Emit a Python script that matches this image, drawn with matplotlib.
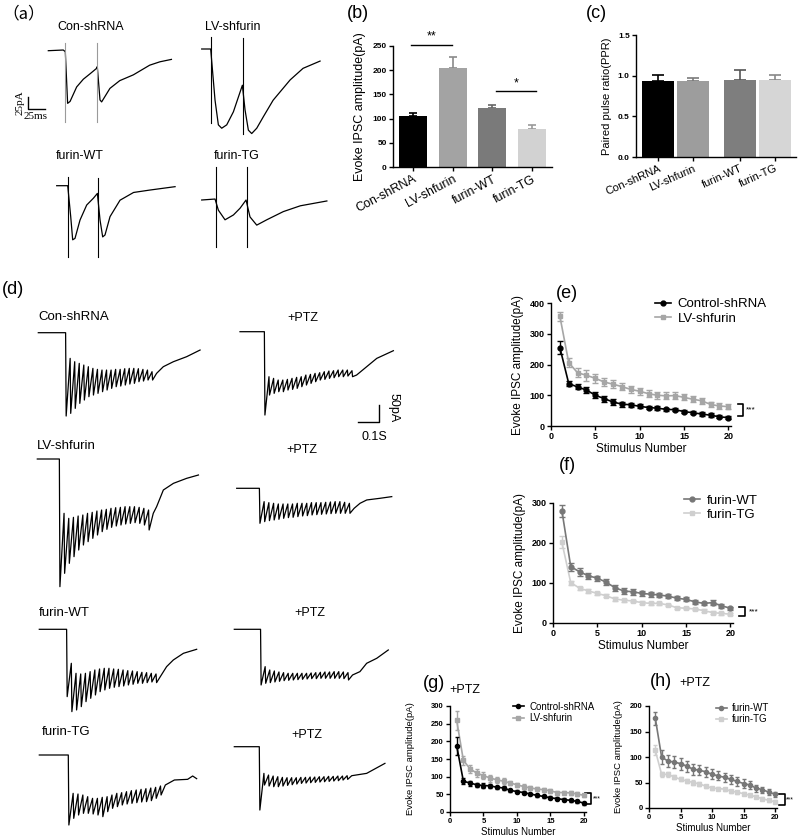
import matplotlib
matplotlib.use('Agg')
import matplotlib.pyplot as plt
from matplotlib.lines import Line2D
import numpy as np

plt.rcParams['font.family'] = ['Liberation Sans', 'DejaVu Sans']
plt.rcParams['axes.linewidth'] = 1.0

W, H = 800, 836
fig = plt.figure(figsize=(W / 100, H / 100), dpi=100)

# ---------------- data ----------------
groups = ['Con-shRNA', 'LV-shfurin', 'furin-WT', 'furin-TG']
b_vals = [105, 204, 121, 78]
b_err = [7, 24, 8, 9]
c_vals = [0.93, 0.93, 0.945, 0.952]
c_err = [0.08, 0.04, 0.13, 0.06]

stim = np.arange(1, 21)
e_ctrl = [255, 138, 127, 117, 100, 89, 78, 71, 69, 64, 60, 58, 54, 53, 47, 43, 39, 35, 30, 27]
e_ctrl_err = [20, 8, 8, 9, 10, 10, 9, 8, 7, 7, 6, 6, 6, 5, 6, 5, 5, 6, 5, 5]
e_lv = [357, 206, 173, 165, 155, 143, 136, 128, 119, 113, 105, 100, 98, 99, 93, 87, 82, 70, 65, 63]
e_lv_err = [15, 15, 15, 18, 15, 14, 13, 12, 12, 12, 12, 11, 11, 10, 10, 10, 10, 9, 9, 9]

f_wt = [281, 141, 128, 118, 112, 102, 88, 80, 78, 74, 72, 70, 67, 62, 59, 53, 49, 51, 43, 37]
f_wt_err = [15, 10, 10, 8, 6, 7, 8, 8, 7, 7, 6, 5, 5, 5, 5, 5, 4, 6, 5, 4]
f_tg = [202, 101, 87, 80, 74, 68, 60, 57, 55, 51, 49, 49, 45, 38, 37, 35, 31, 26, 24, 22]
f_tg_err = [15, 5, 4, 4, 4, 4, 4, 4, 3, 3, 3, 3, 3, 3, 3, 3, 3, 3, 3, 3]

g_ctrl = [187, 87, 82, 77, 75, 74, 70, 68, 61, 58, 55, 51, 47, 44, 40, 38, 35, 33, 30, 25]
g_ctrl_err = [25, 8, 7, 6, 6, 6, 5, 5, 4, 4, 5, 4, 4, 4, 4, 4, 4, 5, 4, 4]
g_lv = [259, 146, 122, 110, 103, 96, 91, 87, 82, 77, 72, 68, 65, 63, 60, 55, 55, 54, 51, 47]
g_lv_err = [28, 12, 12, 12, 10, 10, 8, 8, 6, 6, 6, 5, 5, 5, 5, 5, 5, 5, 5, 5]

h_wt = [176, 100, 92, 90, 87, 82, 76, 74, 71, 66, 63, 60, 56, 52, 48, 45, 39, 36, 31, 27]
h_wt_err = [13, 14, 12, 12, 12, 11, 11, 10, 10, 10, 9, 9, 9, 8, 8, 7, 7, 6, 6, 5]
h_tg = [113, 66, 66, 61, 56, 53, 50, 47, 43, 39, 38, 37, 33, 31, 28, 25, 22, 18, 15, 12]
h_tg_err = [10, 5, 5, 4, 4, 4, 4, 4, 3, 3, 3, 3, 3, 3, 3, 3, 3, 3, 3, 3]

# panel (a) paired-pulse traces: time (ms), current (pA)
a_con_t = [0, 22, 25, 28.4, 32, 41.7, 51.5, 61.2, 70.6, 72, 76, 78.4, 90.6, 105, 125, 149, 164, 181]
a_con_i = [0, 1.4, -2, -109, -105, -75, -59, -48, -37, -33, -102, -106, -78, -62, -50, -30, -23, -18]
a_con_stim = [24.5, 71]
a_lv_t = [0, 13.2, 19.6, 24.5, 29.4, 36.8, 46.6, 59.8, 63.7, 68.6, 73.5, 80.9, 90.7, 105, 130, 149, 174]
a_lv_i = [0, 0, -106, -157, -164, -157, -130, -75, -126, -168, -175, -164, -140, -106, -64, -40, -25]
a_lv_stim = [13.7, 60.3]
a_wt_t = [0, 16.2, 20.6, 23.5, 26.9, 34.3, 44.1, 53.9, 59.8, 63.7, 67.6, 71, 78.4, 93.1, 113, 137, 174]
a_wt_i = [0, 0, -64, -112, -109, -71, -40, -26, -16, -71, -106, -102, -64, -30, -14, -9, -2]
a_wt_stim = [17.2, 60.3]
a_tg_t = [0, 19.6, 24.5, 34.3, 46.6, 56.4, 65.2, 71, 80.9, 95.6, 120, 145, 184]
a_tg_i = [0, 2, -21, -41, -31, -17, 0, -35, -52, -41, -24, -12, -2]
a_tg_stim = [21, 66]

# panel (d) 20-pulse train traces: per-pulse trough / peak currents (pA)
d_con_trough = [-250, -242, -227, -212, -202, -192, -187, -182, -177, -172, -167, -162, -160, -157, -154, -152, -147, -145, -142, -142]
d_con_peak = [-77, -87, -92, -97, -102, -107, -110, -112, -112, -112, -110, -110, -108, -107, -107, -108, -110, -112, -117, -122]
d_con_rec_t = [595, 643, 706, 770]
d_con_rec_i = [-102, -87, -72, -52]

d_conp_trough = [-250, -190, -185, -180, -180, -175, -173, -170, -165, -160, -155, -150, -145, -143, -140, -138, -135, -135, -133, -135]
d_conp_peak = [-135, -140, -145, -145, -143, -140, -137, -135, -130, -128, -125, -123, -120, -118, -117, -115, -115, -115, -117, -130]
d_conp_rec_t = [603, 651, 730]
d_conp_rec_i = [-105, -80, -57]

d_lv_trough = [-383, -343, -313, -293, -273, -258, -248, -238, -228, -218, -211, -205, -201, -198, -195, -193, -191, -193, -198, -213]
d_lv_peak = [-163, -178, -175, -171, -168, -163, -160, -156, -153, -151, -148, -146, -145, -143, -143, -143, -145, -148, -153, -163]
d_lv_rec_t = [568, 600, 648, 711, 767]
d_lv_rec_i = [-143, -93, -73, -58, -48]

d_lvp_trough = [-105, -100, -97, -95, -93, -90, -88, -87, -85, -83, -82, -80, -79, -78, -77, -76, -75, -75, -75, -75]
d_lvp_peak = [-40, -43, -45, -47, -47, -47, -47, -45, -45, -45, -43, -43, -43, -42, -41, -40, -40, -42, -45, -60]
d_lvp_rec_t = [587, 619, 682, 738]
d_lvp_rec_i = [-45, -35, -30, -25]

d_wt_trough = [-202, -247, -242, -232, -217, -207, -197, -187, -182, -177, -174, -172, -170, -167, -165, -162, -162, -160, -158, -160]
d_wt_peak = [-102, -132, -134, -132, -127, -122, -119, -117, -117, -119, -120, -122, -124, -125, -127, -129, -130, -132, -134, -140]
d_wt_rec_t = [606, 638, 686, 749]
d_wt_rec_i = [-112, -92, -72, -60]

d_wtp_trough = [-167, -162, -160, -158, -156, -154, -153, -152, -151, -150, -149, -148, -148, -147, -147, -147, -147, -147, -148, -152]
d_wtp_peak = [-112, -122, -125, -128, -130, -132, -132, -132, -132, -132, -131, -130, -129, -128, -128, -127, -127, -128, -130, -137]
d_wtp_rec_t = [598, 630, 678, 733]
d_wtp_rec_i = [-127, -102, -87, -62]

d_tg_trough = [-210, -190, -180, -175, -175, -177, -180, -185, -170, -160, -155, -150, -147, -145, -143, -141, -140, -137, -130, -120]
d_tg_peak = [-115, -117, -120, -125, -130, -130, -127, -125, -120, -115, -113, -110, -107, -105, -103, -101, -99, -97, -93, -90]
d_tg_rec_t = [643, 706, 730, 749]
d_tg_rec_i = [-75, -73, -63, -71]

d_tgp_trough = [-190, -115, -118, -120, -120, -118, -116, -114, -112, -110, -109, -108, -107, -106, -105, -104, -103, -102, -100, -98]
d_tgp_peak = [-80, -85, -88, -90, -92, -93, -93, -93, -92, -92, -91, -91, -90, -90, -89, -89, -88, -88, -87, -87]
d_tgp_rec_t = [630, 717]
d_tgp_rec_i = [-80, -50]

# ---------------- helpers ----------------
def px_axes(x0, y0, x1, y1, **kw):
    return fig.add_axes([x0 / W, 1 - y1 / H, (x1 - x0) / W, (y1 - y0) / H], **kw)


def ftext(x, y, s, **kw):
    return fig.text(x / W, 1 - y / H, s, **kw)


def trace_axes(ms_per_px, pa_per_px):
    ax = fig.add_axes([0, 0, 1, 1], zorder=0)
    ax.set_xlim(0, W * ms_per_px)
    ax.set_ylim(-H * pa_per_px, 0)
    ax.axis('off')
    ax.patch.set_alpha(0)
    return ax


LABEL_FONT = dict(fontsize=13)

# ---------------- panel (a) traces ----------------
MS_A, PA_A = 1.47, 2.07
axA = trace_axes(MS_A, PA_A)
a_specs = [
    (a_con_t, a_con_i, a_con_stim, (48.3, 50.7), [(15, -147), (15, -147)], '#9a9a9a'),
    (a_lv_t, a_lv_i, a_lv_stim, (201.7, 49.0), [(25, -154), (22, -175)], 'black'),
    (a_wt_t, a_wt_i, a_wt_stim, (56.7, 185.7), [(19, -147), (15, -147)], 'black'),
    (a_tg_t, a_tg_i, a_tg_stim, (201.7, 200.0), [(69, -97), (69, -97)], 'black'),
]
for t, i, st, (ox, oy), rng, scol in a_specs:
    x0, y0 = ox * MS_A, -oy * PA_A
    axA.plot(x0 + np.array(t), y0 + np.array(i), color='black', lw=0.9)
    for s, (top, bot) in zip(st, rng):
        axA.plot([x0 + s, x0 + s], [y0 + top, y0 + bot], color=scol, lw=0.8)

# scale bar (a)
sx, sy = 28 * MS_A, -109 * PA_A
axA.plot([sx, sx, sx + 25], [sy + 25, sy, sy], color='black', lw=1.0)
ftext(20, 103, '25pA', rotation=90, ha='center', va='center', fontsize=8,
      family=['Liberation Serif', 'DejaVu Serif'])
ftext(36, 112, '25ms', ha='center', va='top', fontsize=8,
      family=['Liberation Serif', 'DejaVu Serif'])

ftext(2, 14, '（a）', ha='left', va='center', fontsize=12,
      family=['Noto Sans CJK SC', 'DejaVu Sans'])
ftext(57, 27, 'Con-shRNA', ha='left', va='center', fontsize=9)
ftext(205, 27, 'LV-shfurin', ha='left', va='center', fontsize=9)
ftext(56, 156, 'furin-WT', ha='left', va='center', fontsize=9)
ftext(214, 156, 'furin-TG', ha='left', va='center', fontsize=9)

# ---------------- panel (d) traces ----------------
MS_D, PA_D = 4.76, 3.0
axD = trace_axes(MS_D, PA_D)


def train_path(t_on, t_off, troughs, peaks, rec_t, rec_i):
    n = len(troughs)
    dt = (t_off - t_on) / n
    ts, ys = [0, t_on], [0, 0]
    for k in range(n):
        ts += [t_on + k * dt + 0.12 * dt, t_on + (k + 1) * dt]
        ys += [troughs[k], peaks[k]]
    return np.array(ts + list(rec_t)), np.array(ys + list(rec_i))


d_specs = [
    (130, 563, d_con_trough, d_con_peak, d_con_rec_t, d_con_rec_i, (38.3, 332.7)),
    (116, 555, d_conp_trough, d_conp_peak, d_conp_rec_t, d_conp_rec_i, (240.0, 331.7)),
    (105, 552, d_lv_trough, d_lv_peak, d_lv_rec_t, d_lv_rec_i, (37.3, 459.0)),
    (108, 559, d_lvp_trough, d_lvp_peak, d_lvp_rec_t, d_lvp_rec_i, (236.7, 488.3)),
    (130, 578, d_wt_trough, d_wt_peak, d_wt_rec_t, d_wt_rec_i, (39.3, 629.3)),
    (125, 563, d_wtp_trough, d_wtp_peak, d_wtp_rec_t, d_wtp_rec_i, (234.3, 629.3)),
    (138, 600, d_tg_trough, d_tg_peak, d_tg_rec_t, d_tg_rec_i, (39.3, 755.0)),
    (119, 559, d_tgp_trough, d_tgp_peak, d_tgp_rec_t, d_tgp_rec_i, (234.3, 746.7)),
]
for t_on, t_off, tr, pk, rt, ri, (ox, oy) in d_specs:
    ts, ys = train_path(t_on, t_off, tr, pk, rt, ri)
    axD.plot(ox * MS_D + ts, -oy * PA_D + ys, color='black', lw=0.9)

# scale bar (d)
cx, cy = 379 * MS_D, -421.7 * PA_D
axD.plot([cx - 100, cx, cx], [cy, cy, cy + 50], color='black', lw=1.0)
ftext(394, 408, '50pA', rotation=-90, ha='center', va='center', fontsize=9)
ftext(374, 437, '0.1S', ha='center', va='center', fontsize=9)

ftext(2, 290, '(d)', ha='left', va='center', **LABEL_FONT)
ftext(38, 317, 'Con-shRNA', ha='left', va='center', fontsize=9.5)
ftext(303, 318, '+PTZ', ha='center', va='center', fontsize=9)
ftext(37, 446, 'LV-shfurin', ha='left', va='center', fontsize=9.5)
ftext(302, 450, '+PTZ', ha='center', va='center', fontsize=9)
ftext(39, 613, 'furin-WT', ha='left', va='center', fontsize=9.5)
ftext(310, 613, '+PTZ', ha='center', va='center', fontsize=9)
ftext(42, 732, 'furin-TG', ha='left', va='center', fontsize=9.5)
ftext(307, 735, '+PTZ', ha='center', va='center', fontsize=9)


# ---------------- common axis styling ----------------
def style(ax, tick_fs):
    for sp in ['top', 'right']:
        ax.spines[sp].set_visible(False)
    ax.tick_params(direction='out', length=3, width=1.0, pad=1.5)
    ax.tick_params(axis='y', labelsize=tick_fs)
    for lab in ax.get_yticklabels():
        lab.set_fontweight('bold')


# ---------------- panel (b) ----------------
b_colors = ['#000000', '#a3a3a3', '#7a7a7a', '#d2d2d2']
b_ecol = ['#000000', '#8a8a8a', '#666666', '#9a9a9a']
axb = px_axes(393, 46, 552, 167)
xb = np.arange(4)
axb.bar(xb, b_vals, width=0.7, color=b_colors, zorder=2)
for k in range(4):
    axb.errorbar(xb[k], b_vals[k], yerr=[[0], [b_err[k]]], fmt='none', ecolor=b_ecol[k],
                 elinewidth=1.2, capsize=3, capthick=1.2, zorder=1)
axb.set_xlim(-0.5, 3.5)
axb.set_ylim(0, 250)
axb.set_yticks([0, 50, 100, 150, 200, 250])
axb.set_xticks(xb)
style(axb, 6)
axb.set_xticklabels(groups, rotation=28, ha='right', rotation_mode='anchor', fontsize=9)
axb.set_ylabel('Evoke IPSC amplitude(pA)', fontsize=9)
axb.yaxis.set_label_coords(-0.17, 0.5)
axb.plot([-0.05, 0.98], [252, 252], color='black', lw=1.0, clip_on=False)
axb.text(0.46, 258, '**', ha='center', va='bottom', fontsize=9)
axb.plot([2.09, 3.09], [157, 157], color='black', lw=1.0, clip_on=False)
axb.text(2.59, 161, '*', ha='center', va='bottom', fontsize=9)
ftext(358, 13, '(b)', ha='center', va='center', **LABEL_FONT)

# ---------------- panel (c) ----------------
c_colors = ['#000000', '#9d9d9d', '#7e7e7e', '#d6d6d6']
c_ecol = ['#000000', '#7a7a7a', '#555555', '#888888']
axc = px_axes(636, 35, 796, 157)
xc = np.array([0, 1, 2.34, 3.34])
axc.bar(xc, c_vals, width=0.91, color=c_colors, zorder=2)
for k in range(4):
    axc.errorbar(xc[k], c_vals[k], yerr=[[0], [c_err[k]]], fmt='none', ecolor=c_ecol[k],
                 elinewidth=1.2, capsize=4, capthick=1.2, zorder=1)
axc.set_xlim(-0.63, 3.94)
axc.set_ylim(0, 1.5)
axc.set_yticks([0.0, 0.5, 1.0, 1.5])
axc.set_yticklabels(['0.0', '0.5', '1.0', '1.5'])
axc.set_xticks(xc)
style(axc, 6)
axc.set_xticklabels(groups, rotation=24, ha='right', rotation_mode='anchor', fontsize=8)
axc.set_ylabel('Paired pulse ratio(PPR)', fontsize=8)
axc.yaxis.set_label_coords(-0.15, 0.5)
ftext(596, 13, '(c)', ha='center', va='center', **LABEL_FONT)


# ---------------- line panels ----------------
def line_panel(ax, s1, e1, c1, m1, l1, s2, e2, c2, m2, l2, ylim, yticks, fs, ms, cap,
               leg_fs, leg_anchor):
    ax.errorbar(stim, s1, yerr=e1, color=c1, marker=m1, ms=ms, lw=1.2, elinewidth=1.0,
                capsize=cap, capthick=1.0, clip_on=False, zorder=3)
    ax.errorbar(stim, s2, yerr=e2, color=c2, marker=m2, ms=ms, lw=1.2, elinewidth=1.0,
                capsize=cap, capthick=1.0, clip_on=False, zorder=2)
    ax.set_xlim(0, 20.3)
    ax.set_ylim(*ylim)
    ax.set_xticks([0, 5, 10, 15, 20])
    ax.set_yticks(yticks)
    style(ax, fs)
    ax.tick_params(axis='x', labelsize=fs)
    for lab in ax.get_xticklabels():
        lab.set_fontweight('bold')
    handles = [Line2D([], [], color=c1, marker=m1, ms=ms, lw=1.2),
               Line2D([], [], color=c2, marker=m2, ms=ms, lw=1.2)]
    ax.legend(handles, [l1, l2], loc='upper left', bbox_to_anchor=leg_anchor, frameon=False,
              fontsize=leg_fs, handlelength=1.2, handletextpad=0.5, labelspacing=0.15,
              borderpad=0, borderaxespad=0)


def bracket(ax, x0, x1, ytop, ybot, tx, fs):
    ax.plot([x0, x1, x1, x0], [ytop, ytop, ybot, ybot], color='black', lw=1.2, clip_on=False)
    ax.text(tx, (ytop + ybot) / 2, '***', ha='left', va='center', fontsize=fs, clip_on=False)


# (e)
axe = px_axes(551, 303, 731, 426)
line_panel(axe, e_ctrl, e_ctrl_err, '#000000', 'o', 'Control-shRNA',
           e_lv, e_lv_err, '#a6a6a6', 's', 'LV-shfurin', (0, 400), [0, 100, 200, 300, 400],
           6.5, 3.5, 2, 9.5, (0.58, 1.04))
axe.set_xlabel('Stimulus Number', fontsize=8.5, labelpad=1)
axe.set_ylabel('Evoke IPSC amplitude(pA)', fontsize=8.5)
axe.yaxis.set_label_coords(-0.15, 0.5)
bracket(axe, 21.1, 21.6, 71, 32, 22.0, 6)
ftext(567, 293, '(e)', ha='center', va='center', **LABEL_FONT)

# (f)
axf = px_axes(553, 503, 733, 623)
line_panel(axf, f_wt, f_wt_err, '#777777', 'o', 'furin-WT',
           f_tg, f_tg_err, '#cfcfcf', 's', 'furin-TG', (0, 300), [0, 100, 200, 300],
           6.5, 3.5, 2, 9.5, (0.73, 1.07))
axf.set_xlabel('Stimulus Number', fontsize=8.5, labelpad=1)
axf.set_ylabel('Evoke IPSC amplitude(pA)', fontsize=8.5)
axf.yaxis.set_label_coords(-0.15, 0.5)
bracket(axf, 21.0, 21.6, 40, 18, 22.1, 6)
ftext(567, 466, '(f)', ha='center', va='center', **LABEL_FONT)

# (g)
axg = px_axes(450, 706, 586, 812)
line_panel(axg, g_ctrl, g_ctrl_err, '#000000', 'o', 'Control-shRNA',
           g_lv, g_lv_err, '#a6a6a6', 's', 'LV-shfurin', (0, 300), [0, 50, 100, 150, 200, 250, 300],
           5.5, 3, 1.5, 7, (0.46, 1.04))
axg.set_xlabel('Stimulus Number', fontsize=7, labelpad=1)
axg.set_ylabel('Evoke IPSC amplitude(pA)', fontsize=6.8)
axg.yaxis.set_label_coords(-0.26, 0.5)
bracket(axg, 20.1, 21.0, 54, 22, 21.3, 5)
ftext(434, 683, '(g)', ha='center', va='center', **LABEL_FONT)
ftext(465, 690, '+PTZ', ha='center', va='center', fontsize=9)

# (h)
axh = px_axes(649, 706, 777, 808)
line_panel(axh, h_wt, h_wt_err, '#777777', 'o', 'furin-WT',
           h_tg, h_tg_err, '#cfcfcf', 's', 'furin-TG', (0, 200), [0, 50, 100, 150, 200],
           5.5, 3, 1.5, 7, (0.52, 1.03))
axh.set_xlabel('Stimulus Number', fontsize=7, labelpad=1)
axh.set_ylabel('Evoke IPSC amplitude(pA)', fontsize=6.8)
axh.yaxis.set_label_coords(-0.2, 0.5)
bracket(axh, 20.6, 21.6, 28, 5, 21.7, 5)
ftext(661, 682, '(h)', ha='center', va='center', **LABEL_FONT)
ftext(695, 683, '+PTZ', ha='center', va='center', fontsize=9)

fig.savefig('out.png', dpi=100)
